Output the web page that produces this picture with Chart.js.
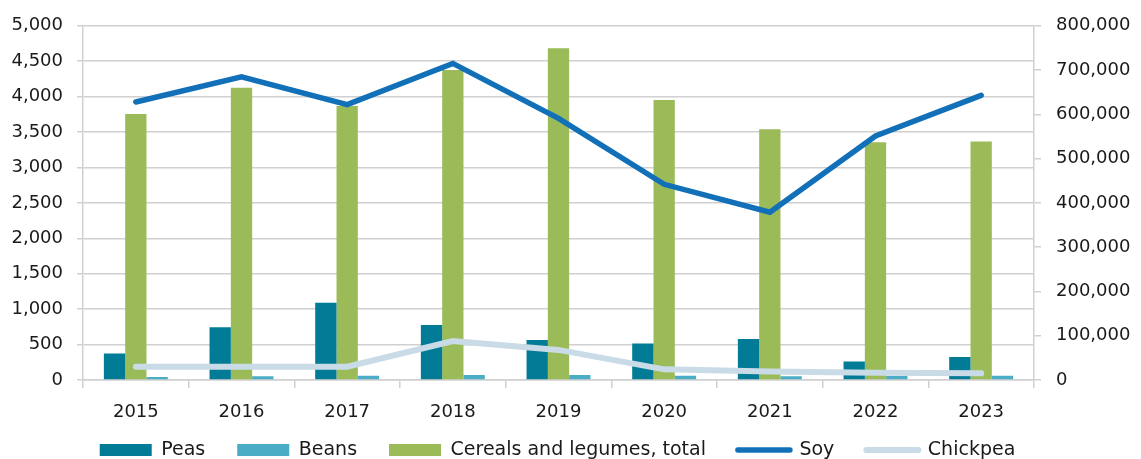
<!DOCTYPE html>
<html>
<head>
<meta charset="utf-8">
<script src="https://cdn.jsdelivr.net/npm/chart.js@4.4.1/dist/chart.umd.min.js"></script>
<style>
html,body{margin:0;padding:0;background:#fff;}
#wrap{width:1141px;height:459px;}
</style>
</head>
<body>
<div id="wrap"><canvas id="c" width="1141" height="459"></canvas></div>
<script>
const years = ['2015','2016','2017','2018','2019','2020','2021','2022','2023'];
const peas = [375, 745, 1090, 775, 565, 515, 580, 260, 325];
const beans = [42, 52, 61, 71, 71, 61, 52, 57, 61];
const cereals = [3754, 4125, 3867, 4375, 4683, 3953, 3540, 3357, 3366];
const soy = [628000, 685000, 622000, 715000, 591000, 442000, 379000, 551000, 643000];
const chickpea = [30000, 30000, 30000, 88000, 68000, 24000, 19000, 16500, 15000];
const leftTicks = {min: 0, max: 5000, step: 500};
const rightTicks = {min: 0, max: 800000, step: 100000};

const FONT = '"DejaVu Sans"';
const TXT = '#1a1a1a';
const fmt = v => Number(v).toLocaleString('en-US');
const legendOrder = ['Peas','Beans','Cereals and legumes, total','Soy','Chickpea'];

// keep wide horizontal gaps between legend items while using a compact legend row
const legendSpacing = {
  id:'legendSpacing',
  beforeLayout(chart){
    const lg = chart.legend;
    if (!lg || lg._patched) return;
    lg._patched = true;
    const fit = lg.fit;
    lg.fit = function(){ fit.call(this); if (this.isHorizontal()) this.height = 34; };
    const draw = lg.draw;
    lg.draw = function(){
      const t = this.top, l = this.left, r = this.right;
      this.top = t - 16.5; this.left = l - 13; this.right = r - 13;
      draw.call(this);
      this.top = t; this.left = l; this.right = r;
    };
  }
};

new Chart(document.getElementById('c'), {
  data: {
    labels: years,
    datasets: [
      {type:'line', label:'Soy', data: soy, yAxisID:'y2', borderColor:'#1170b8', backgroundColor:'#1170b8', borderWidth:5.5, pointRadius:0, borderCapStyle:'round', order:1},
      {type:'line', label:'Chickpea', data: chickpea, yAxisID:'y2', borderColor:'#c9dbe7', backgroundColor:'#c9dbe7', borderWidth:6, pointRadius:0, borderCapStyle:'round', order:0},
      {type:'bar', label:'Peas', data: peas, yAxisID:'y', backgroundColor:'#017b96', order:2},
      {type:'bar', label:'Cereals and legumes, total', data: cereals, yAxisID:'y', backgroundColor:'#9bbb59', order:3},
      {type:'bar', label:'Beans', data: beans, yAxisID:'y', backgroundColor:'#4bacc6', order:4}
    ]
  },
  plugins:[legendSpacing],
  options: {
    responsive:false,
    animation:false,
    layout:{padding:{top:16,left:0,right:0,bottom:0}},
    datasets:{bar:{categoryPercentage:0.605, barPercentage:1.0}},
    plugins:{
      tooltip:{enabled:false},
      legend:{
        position:'bottom',
        labels:{
          font:{family:FONT,size:19},
          color:TXT,
          usePointStyle:true,
          pointStyleWidth:52,
          boxHeight:12,
          padding:32,
          generateLabels(chart){
            const items = chart.data.datasets.map((ds,i)=>{
              const isLine = ds.type==='line';
              return {
                text: ds.label,
                fillStyle: ds.backgroundColor,
                strokeStyle: ds.borderColor || ds.backgroundColor,
                lineWidth: isLine ? ds.borderWidth : 0,
                lineCap: 'round',
                pointStyle: isLine ? 'line' : 'rect',
                datasetIndex: i,
                hidden: false,
                fontColor:TXT
              };
            });
            items.sort((a,b)=>legendOrder.indexOf(a.text)-legendOrder.indexOf(b.text));
            return items;
          }
        }
      }
    },
    scales:{
      x:{
        offset:true,
        afterFit(s){ s.height = 45; },
        grid:{offset:true, drawOnChartArea:false, drawTicks:true, tickLength:8, color:'#d0d0d0', lineWidth:1.5},
        border:{color:'#d0d0d0', width:1.5},
        ticks:{font:{family:FONT,size:18}, color:TXT, padding:14}
      },
      y:{
        position:'left',
        min:leftTicks.min, max:leftTicks.max,
        afterFit(s){ s.width = 83; },
        grid:{color:'#d0d0d0', lineWidth:1.5, tickLength:6},
        border:{color:'#d0d0d0', width:1.5},
        ticks:{stepSize:leftTicks.step, font:{family:FONT,size:18}, color:TXT, padding:14, callback:v=>fmt(v)}
      },
      y2:{
        position:'right',
        min:rightTicks.min, max:rightTicks.max,
        afterFit(s){ s.width = 107; },
        grid:{drawOnChartArea:false, color:'#d0d0d0', lineWidth:1.5, tickLength:7},
        border:{color:'#d0d0d0', width:1.5},
        ticks:{stepSize:rightTicks.step, font:{family:FONT,size:18}, color:TXT, padding:15, callback:v=>fmt(v)}
      }
    }
  }
});
</script>
</body>
</html>
